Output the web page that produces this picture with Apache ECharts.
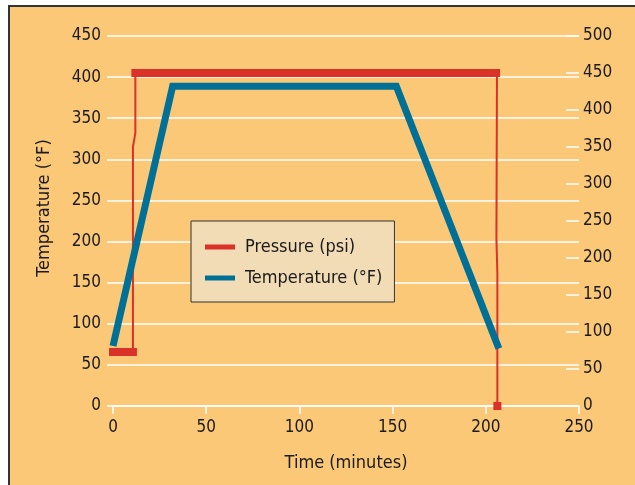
<!DOCTYPE html>
<html lang="en">
<head>
    <meta charset="UTF-8">
    <title>Pressure and temperature</title>
    <style>
        body{
            margin: 0;
            background: #fff;
        }
        #main{
            position: absolute;
            left: 8px;
            top: 5px;
            width: 625px;
            height: 478px;
            border-left: 2px solid #333;
            border-top: 2px solid #333;
        }
    </style>
    <script src="https://cdn.jsdelivr.net/npm/echarts@6/dist/echarts.min.js"></script>
</head>
<body>
    <div id="main"></div>
</body>
<script>
    // 数据
    var xTicks = [0, 50, 100, 150, 200, 250];
    var tempTicks = [0, 50, 100, 150, 200, 250, 300, 350, 400, 450];
    var psiTicks = [0, 50, 100, 150, 200, 250, 300, 350, 400, 450, 500];

    // 温度 (°F), [分钟, 温度]
    var tempData = [[0, 73], [32, 389], [152, 389], [207, 70]];
    // 压力 (psi) 细线
    var pressureLine = [[10.7, 73], [10.7, 350], [12, 369], [12, 450], [206, 450], [205.7, 225], [206.2, 180], [206.2, 0]];
    // 压力 粗线段
    var pressureLow = [[0, 73], [10.7, 73]];
    var pressureHigh = [[12, 450], [205.5, 450]];

    var red = '#da3229';
    var teal = '#007096';
    var font = '"Liberation Sans Narrow", "Arial Narrow", "DejaVu Sans Condensed", sans-serif';

    var mCharts = echarts.init(document.getElementById('main'));

    var lineEnd = pressureLine.map(function (p, i) {
        if (i === pressureLine.length - 1) {
            return { value: p, symbol: 'rect', symbolSize: 8 };
        }
        return p;
    });

    var option = {
        backgroundColor: '#fac877',
        animation: false,
        grid: {
            left: 103,
            right: 56,
            top: 29,
            bottom: 79
        },
        legend: {
            orient: 'vertical',
            left: 181,
            top: 214,
            padding: [17, 12, 15, 14],
            itemGap: 13,
            itemWidth: 30,
            itemHeight: 5,
            backgroundColor: '#f2dcb6',
            borderColor: '#333',
            borderWidth: 1,
            borderRadius: 0,
            data: [
                { name: 'Pressure (psi)', icon: 'rect' },
                { name: 'Temperature (°F)', icon: 'rect' }
            ],
            itemStyle: { borderWidth: 0 },
            textStyle: {
                fontFamily: font,
                fontSize: 18,
                color: '#1a1a1a',
                padding: [0, 0, 0, 5]
            }
        },
        xAxis: {
            type: 'value',
            min: 0,
            max: 250,
            interval: 50,
            name: 'Time (minutes)',
            nameLocation: 'middle',
            nameGap: 48,
            nameTextStyle: { fontFamily: font, fontSize: 18, color: '#1a1a1a' },
            axisLine: { show: true, lineStyle: { color: '#fff', width: 1.5 } },
            axisTick: { show: true, length: 8, lineStyle: { color: '#fff', width: 1.5 } },
            splitLine: { show: false },
            axisLabel: {
                margin: 13,
                fontFamily: font,
                fontSize: 17,
                color: '#1a1a1a',
                customValues: xTicks
            }
        },
        yAxis: [
            {
                type: 'value',
                min: 0,
                max: 450,
                interval: 50,
                name: 'Temperature (°F)',
                nameLocation: 'middle',
                nameRotate: 90,
                nameGap: 60,
                nameTextStyle: {
                    fontFamily: font,
                    fontSize: 18,
                    color: '#1a1a1a',
                    padding: [0, 0, 0, 26]
                },
                axisLine: { show: false },
                axisTick: { show: true, length: 6, lineStyle: { color: '#fff', width: 1.5 } },
                splitLine: { show: true, lineStyle: { color: '#fff', width: 1.5 } },
                axisLabel: {
                    margin: 12,
                    fontFamily: font,
                    fontSize: 17,
                    color: '#1a1a1a',
                    customValues: tempTicks
                }
            },
            {
                type: 'value',
                min: 0,
                max: 500,
                interval: 50,
                position: 'right',
                axisLine: { show: false },
                axisTick: { show: true, inside: true, length: 13, lineStyle: { color: '#fff', width: 1.5 } },
                splitLine: { show: false },
                axisLabel: {
                    margin: 4,
                    fontFamily: font,
                    fontSize: 17,
                    color: '#1a1a1a',
                    customValues: psiTicks
                }
            }
        ],
        series: [
            {
                name: 'Pressure (psi)',
                type: 'line',
                yAxisIndex: 1,
                color: red,
                symbol: 'none',
                data: lineEnd,
                lineStyle: { color: red, width: 2 },
                itemStyle: { color: red },
                z: 3
            },
            {
                name: 'Pressure (psi)',
                type: 'line',
                yAxisIndex: 1,
                color: red,
                symbol: 'none',
                data: pressureLow,
                lineStyle: { color: red, width: 8, cap: 'square' },
                z: 3
            },
            {
                name: 'Pressure (psi)',
                type: 'line',
                yAxisIndex: 1,
                color: red,
                symbol: 'none',
                data: pressureHigh,
                lineStyle: { color: red, width: 8, cap: 'square' },
                z: 3
            },
            {
                name: 'Temperature (°F)',
                type: 'line',
                yAxisIndex: 0,
                color: teal,
                symbol: 'none',
                data: tempData,
                lineStyle: { color: teal, width: 7, join: 'miter' },
                z: 4
            }
        ]
    };

    mCharts.setOption(option);
</script>
</html>
